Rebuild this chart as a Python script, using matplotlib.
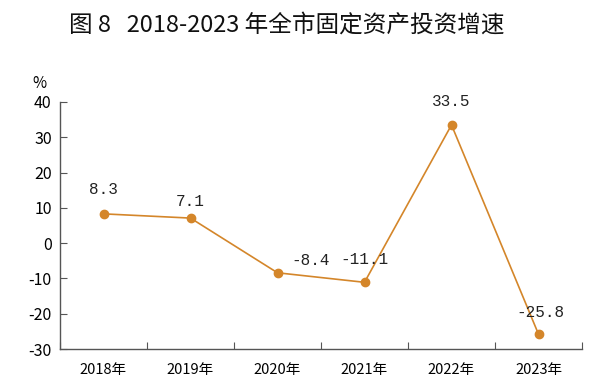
import matplotlib
matplotlib.use("Agg")
import matplotlib.pyplot as plt

plt.rcParams['font.family'] = ['Noto Sans CJK SC', 'DejaVu Sans']

categories = ["2018年", "2019年", "2020年", "2021年", "2022年", "2023年"]
values = [8.3, 7.1, -8.4, -11.1, 33.5, -25.8]
label_texts = ["8.3", "7.1", "-8.4", "-11.1", "33.5", "-25.8"]
label_offsets = [(0, 24), (0, 17), (33, 12), (0, 23), (0, 23), (2, 22)]
yticks = [-30, -20, -10, 0, 10, 20, 30, 40]

fig = plt.figure(figsize=(6.0, 3.83), dpi=100)
ax = fig.add_axes([60/600, 1-349/383, 522/600, 247/383])

color = '#D4862A'
x = list(range(len(categories)))
ax.plot(x, values, color=color, lw=1.2, marker='o', ms=6, mfc=color, mec=color, zorder=3)

for xi, v, t, (dx, dy) in zip(x, values, label_texts, label_offsets):
    ax.annotate(t, (xi, v), xytext=(dx, dy), textcoords='offset pixels',
                ha='center', va='center', fontsize=11.5, color='#222222',
                family=['Liberation Mono', 'DejaVu Sans'])

ax.set_xlim(-0.5, len(categories) - 0.5)
ax.set_ylim(-30, 40)
ax.set_yticks(yticks)
ax.set_yticklabels([str(v) for v in yticks], fontsize=11.5)
ax.set_xticks([i + 0.5 for i in range(-1, len(categories))], minor=False)
ax.set_xticklabels([])
ax.set_xticks(x, minor=True)
ax.set_xticklabels(categories, minor=True, fontsize=10.5)
ax.tick_params(axis='x', which='major', direction='in', length=5, color='#555555')
ax.tick_params(axis='x', which='minor', length=0, pad=10)
ax.tick_params(axis='y', direction='in', length=5, color='#555555', pad=6)

for s in ['top', 'right']:
    ax.spines[s].set_visible(False)
for s in ['left', 'bottom']:
    ax.spines[s].set_color('#555555')
    ax.spines[s].set_linewidth(1.0)

fig.text(39/600, 1-83/383, '%', fontsize=11, ha='center', va='center')
fig.text(287/600, 1-25/383, '图 8   2018-2023 年全市固定资产投资增速', fontsize=17,
         ha='center', va='center', color='#111111')

fig.savefig('out.png', dpi=100)
